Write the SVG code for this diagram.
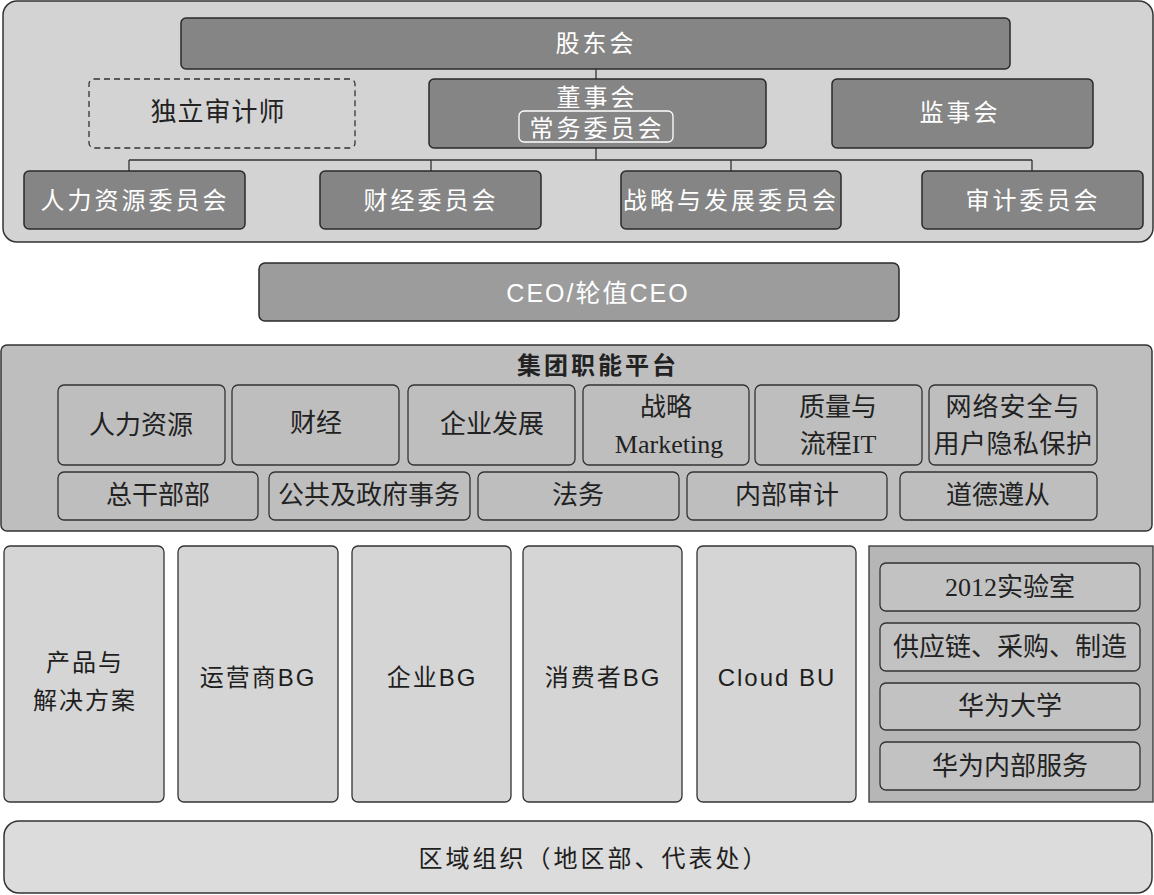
<svg xmlns="http://www.w3.org/2000/svg" width="1154" height="895" viewBox="0 0 1154 895">
<style>
.panel{stroke:#333;stroke-width:1.5}
.dark{fill:#858585;stroke:#2a2a2a;stroke-width:1.5}
.wt{fill:#fff;font-family:'Liberation Sans','Noto Sans CJK SC',sans-serif;font-size:24px;letter-spacing:3px;text-anchor:middle;dominant-baseline:central}
.st{fill:#222;font-family:'Liberation Serif','Noto Sans CJK SC',serif;font-size:26px;text-anchor:middle;dominant-baseline:central}
.dt{fill:#1e1e1e;font-family:'Liberation Sans','Noto Sans CJK SC',sans-serif;font-size:24px;letter-spacing:2px;text-anchor:middle;dominant-baseline:central}
.ib{fill:none;stroke:#333;stroke-width:1.3}
.col{fill:#d5d5d5;stroke:#333;stroke-width:1.3}
.conn{stroke:#333;stroke-width:1.3;fill:none}
</style>
<rect width="1154" height="895" fill="#fff"/>
<g id="governance">
<rect class="panel" x="3" y="1" width="1150" height="241" rx="14" fill="#d3d3d3"/>
</g>
<g id="connectors">
<path class="conn" d="M596 69V79M596 148V160M129 160H1032M129 160V171M431 160V171M731 160V171M1032 160V171"/>
</g>
<g id="gudonghui"><rect class="dark" x="181" y="18" width="829" height="51" rx="5"/><text class="wt" x="596" y="43">股东会</text></g>
<g id="auditor"><rect x="89" y="79" width="266" height="69" rx="5" fill="none" stroke="#333" stroke-width="1.3" stroke-dasharray="6,4"/><text class="st" x="218" y="112" style="letter-spacing:1px">独立审计师</text></g>
<g id="board"><rect class="dark" x="429" y="79" width="337" height="69" rx="5"/><text class="wt" x="597" y="97">董事会</text><rect x="519" y="111" width="154" height="31" rx="5" fill="none" stroke="#fff" stroke-width="1.3"/><text class="wt" x="597" y="128">常务委员会</text></g>
<g id="supervisory"><rect class="dark" x="832" y="79" width="261" height="69" rx="5"/><text class="wt" x="960" y="112">监事会</text></g>
<g id="hr-committee"><rect class="dark" x="24" y="171" width="221" height="58" rx="5"/><text class="wt" x="135" y="200">人力资源委员会</text></g>
<g id="fin-committee"><rect class="dark" x="320" y="171" width="221" height="58" rx="5"/><text class="wt" x="431" y="200">财经委员会</text></g>
<g id="strategy-committee"><rect class="dark" x="621" y="171" width="220" height="58" rx="5"/><text class="wt" x="731" y="200">战略与发展委员会</text></g>
<g id="audit-committee"><rect class="dark" x="922" y="171" width="221" height="58" rx="5"/><text class="wt" x="1033" y="200">审计委员会</text></g>
<g id="ceo"><rect x="259" y="263" width="640" height="58" rx="6" fill="#9c9c9c" stroke="#2a2a2a" stroke-width="1.5"/><text class="wt" x="598" y="293" style="font-size:25px;letter-spacing:2px">CEO/轮值CEO</text></g>
<g id="group-platform">
<rect class="panel" x="1" y="345" width="1151" height="186" rx="6" fill="#bebebe"/>
<text x="598" y="365" style="fill:#222;font-family:'Liberation Sans','Noto Sans CJK SC',sans-serif;font-size:24px;font-weight:bold;letter-spacing:3px;text-anchor:middle;dominant-baseline:central">集团职能平台</text>
</g>
<g id="p-hr"><rect class="ib" x="58" y="385" width="167" height="80" rx="6"/><text class="st" x="141" y="425">人力资源</text></g>
<g id="p-fin"><rect class="ib" x="232" y="385" width="167" height="80" rx="6"/><text class="st" x="316" y="423">财经</text></g>
<g id="p-dev"><rect class="ib" x="408" y="385" width="167" height="80" rx="6"/><text class="st" x="492" y="424">企业发展</text></g>
<g id="p-strat"><rect class="ib" x="583" y="385" width="166" height="80" rx="6"/><text class="st" x="666" y="407">战略</text><text class="st" x="669" y="444">Marketing</text></g>
<g id="p-quality"><rect class="ib" x="755" y="385" width="167" height="80" rx="6"/><text class="st" x="838" y="407">质量与</text><text class="st" x="838" y="444">流程IT</text></g>
<g id="p-security"><rect class="ib" x="929" y="385" width="168" height="80" rx="6"/><text class="st" x="1013" y="407" style="letter-spacing:1px">网络安全与</text><text class="st" x="1013" y="444" style="letter-spacing:0.5px">用户隐私保护</text></g>
<g id="p-cadre"><rect class="ib" x="58" y="472" width="200" height="48" rx="6"/><text class="st" x="158" y="495">总干部部</text></g>
<g id="p-public"><rect class="ib" x="269" y="472" width="201" height="48" rx="6"/><text class="st" x="369" y="495">公共及政府事务</text></g>
<g id="p-legal"><rect class="ib" x="478" y="472" width="201" height="48" rx="6"/><text class="st" x="578" y="495">法务</text></g>
<g id="p-internal-audit"><rect class="ib" x="687" y="472" width="200" height="48" rx="6"/><text class="st" x="787" y="495">内部审计</text></g>
<g id="p-ethics"><rect class="ib" x="900" y="472" width="197" height="48" rx="6"/><text class="st" x="998" y="495">道德遵从</text></g>
<g id="bg-products"><rect class="col" x="4" y="546" width="160" height="256" rx="6"/><text class="dt" x="85" y="662">产品与</text><text class="dt" x="85" y="700">解决方案</text></g>
<g id="bg-carrier"><rect class="col" x="178" y="546" width="160" height="256" rx="6"/><text class="dt" x="258" y="677">运营商BG</text></g>
<g id="bg-enterprise"><rect class="col" x="352" y="546" width="159" height="256" rx="6"/><text class="dt" x="432" y="677">企业BG</text></g>
<g id="bg-consumer"><rect class="col" x="523" y="546" width="159" height="256" rx="6"/><text class="dt" x="603" y="677">消费者BG</text></g>
<g id="bu-cloud"><rect class="col" x="697" y="546" width="159" height="256" rx="6"/><text class="dt" x="777" y="677">Cloud BU</text></g>
<g id="support">
<rect x="869" y="546" width="284" height="256" fill="#b6b6b6" stroke="#333" stroke-width="1.3"/>
</g>
<g id="s-2012"><rect x="880" y="563" width="260" height="48" rx="6" fill="#c2c2c2" stroke="#333" stroke-width="1.3"/><text class="st" x="1010" y="587">2012实验室</text></g>
<g id="s-supply"><rect x="880" y="623" width="260" height="48" rx="6" fill="#c2c2c2" stroke="#333" stroke-width="1.3"/><text class="st" x="1010" y="647">供应链、采购、制造</text></g>
<g id="s-univ"><rect x="880" y="683" width="260" height="47" rx="6" fill="#c2c2c2" stroke="#333" stroke-width="1.3"/><text class="st" x="1010" y="706">华为大学</text></g>
<g id="s-service"><rect x="880" y="742" width="260" height="48" rx="6" fill="#c2c2c2" stroke="#333" stroke-width="1.3"/><text class="st" x="1010" y="766">华为内部服务</text></g>
<g id="region"><rect x="4" y="821" width="1148" height="72" rx="15" fill="#dcdcdc" stroke="#333" stroke-width="1.5"/><text class="dt" x="594" y="858" style="letter-spacing:3px">区域组织（地区部、代表处）</text></g>
</svg>
